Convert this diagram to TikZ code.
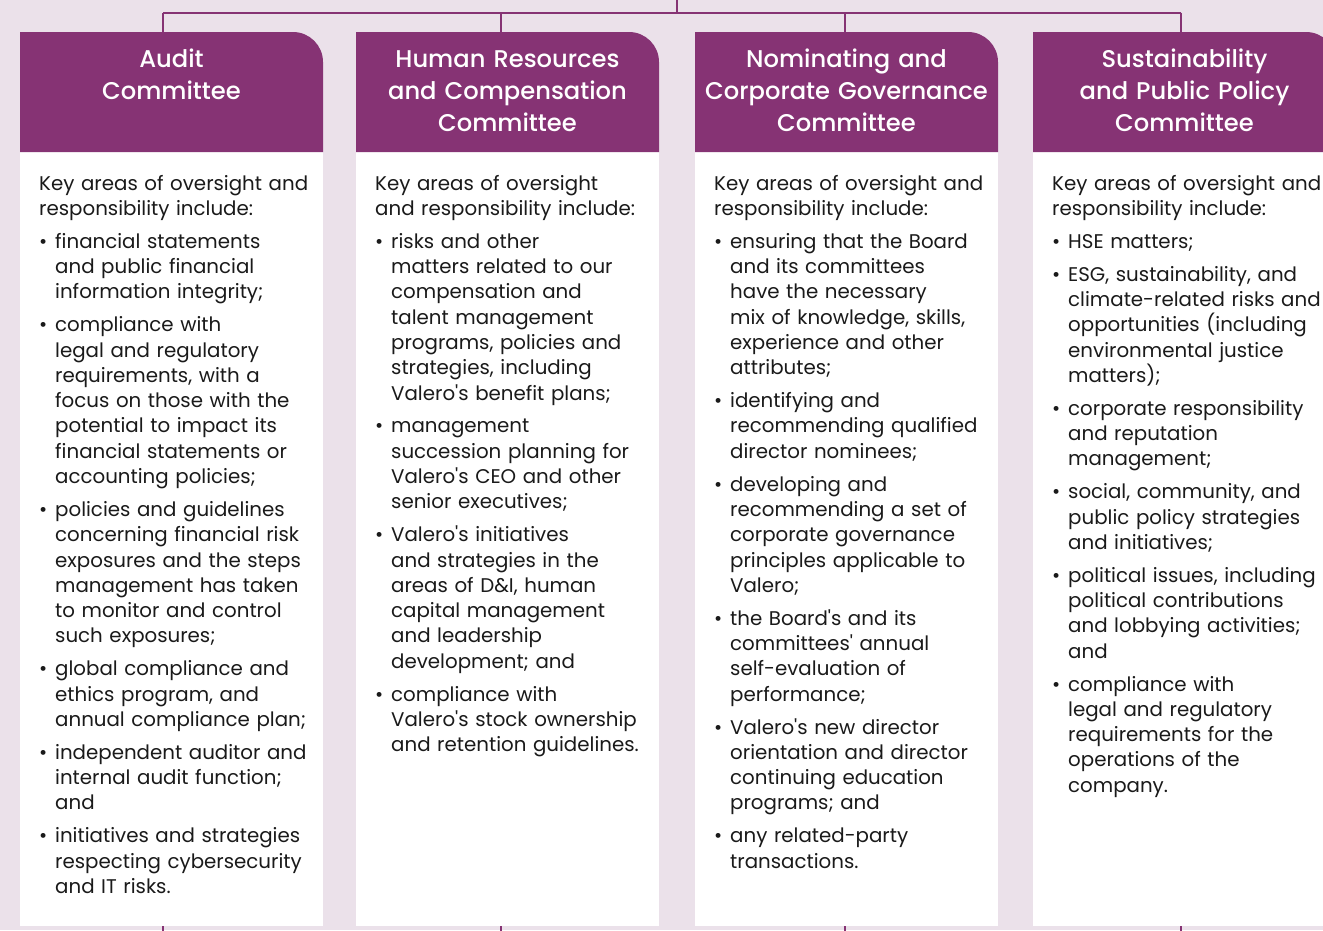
\documentclass[tikz,border=0pt]{standalone}
\usepackage{fontspec}
\setmainfont{Poppins}[Ligatures=TeXOff]
\newfontfamily\titlefont{Poppins Medium}[Ligatures=TeXOff]
\definecolor{vpurple}{HTML}{863374}
\definecolor{vbg}{HTML}{EBE1EA}
\definecolor{vtext}{HTML}{1A1A1A}
\newcommand{\itm}{\par\vspace{7.6pt}\hangindent=16pt\hangafter=1\noindent\makebox[16pt][l]{\textbullet}}
\newcommand{\bodystart}{\setlength{\parskip}{0pt}\noindent}
\tikzset{
  conn/.style={draw=vpurple, line width=2pt},
  headbox/.style={fill=vpurple},
  bodybox/.style={fill=white},
  title/.style={text=white, inner sep=0pt, align=center, text width=300pt, anchor=base,
    font=\titlefont\fontsize{24.2pt}{31.8pt}\selectfont},
  body/.style={text=vtext, inner sep=0pt, align=left, text width=300pt, anchor=base west,
    font=\fontsize{19.8pt}{25.3pt}\selectfont},
}
\begin{document}
\begin{tikzpicture}[x=1pt,y=-1pt]
\clip (0,0) rectangle (1323,930);
\fill[vbg] (0,0) rectangle (1323,930);
% column boxes
\foreach \cx in {20,356,695,1033}{
  \fill[bodybox] (\cx,152) rectangle (\cx+303,926);
  \fill[headbox] (\cx,152) -- (\cx,32) -- (\cx+273,32) arc[start angle=-90,end angle=0,radius=30] -- (\cx+303,152) -- cycle;
}
% connector points
\coordinate (top) at (677,0);
\coordinate (hub) at (677,12.5);
\coordinate (l1) at (163,12.5);
\coordinate (l4) at (1181,12.5);
\coordinate (h1) at (163,32);
\coordinate (h2) at (501,32);
\coordinate (h3) at (845,32);
\coordinate (h4) at (1181,32);
\coordinate (t1) at (501,12.5);
\coordinate (t3) at (845,12.5);
\coordinate (f1) at (163,926);
\coordinate (f2) at (501,926);
\coordinate (f3) at (845,926);
\coordinate (f4) at (1181,926);
\coordinate (e1) at (163,931);
\coordinate (e2) at (501,931);
\coordinate (e3) at (845,931);
\coordinate (e4) at (1181,931);
\draw[conn] (top) -- (hub);
\draw[conn] (l1) -- (l4);
\draw[conn] (l1) -- (h1);
\draw[conn] (t1) -- (h2);
\draw[conn] (t3) -- (h3);
\draw[conn] (l4) -- (h4);
\draw[conn] (f1) -- (e1);
\draw[conn] (f2) -- (e2);
\draw[conn] (f3) -- (e3);
\draw[conn] (f4) -- (e4);
% titles
\node[title] (T1) at (171.5,67.5) {Audit\\Committee};
\node[title] (T2) at (507.5,67.5) {Human Resources\\and Compensation\\Committee};
\node[title] (T3) at (846.5,67.5) {Nominating and\\Corporate Governance\\Committee};
\node[title] (T4) at (1184.5,67.5) {Sustainability\\and Public Policy\\Committee};
% bodies
\node[body] (B1) at (39,190) {\bodystart Key areas of oversight and\newline responsibility include:
\itm financial statements\newline and public financial\newline information integrity;
\itm compliance with\newline legal and regulatory\newline requirements, with a\newline focus on those with the\newline potential to impact its\newline financial statements or\newline accounting policies;
\itm policies and guidelines\newline concerning financial risk\newline exposures and the steps\newline management has taken\newline to monitor and control\newline such exposures;
\itm global compliance and\newline ethics program, and\newline annual compliance plan;
\itm independent auditor and\newline internal audit function;\newline and
\itm initiatives and strategies\newline respecting cybersecurity\newline and IT risks.\par};
\node[body] (B2) at (375,190) {\bodystart Key areas of oversight\newline and responsibility include:
\itm risks and other\newline matters related to our\newline compensation and\newline talent management\newline programs, policies and\newline strategies, including\newline Valero's benefit plans;
\itm management\newline succession planning for\newline Valero's CEO and other\newline senior executives;
\itm Valero's initiatives\newline and strategies in the\newline areas of D\&I, human\newline capital management\newline and leadership\newline development; and
\itm compliance with\newline Valero's stock ownership\newline and retention guidelines.\par};
\node[body] (B3) at (714,190) {\bodystart Key areas of oversight and\newline responsibility include:
\itm ensuring that the Board\newline and its committees\newline have the necessary\newline mix of knowledge, skills,\newline experience and other\newline attributes;
\itm identifying and\newline recommending qualified\newline director nominees;
\itm developing and\newline recommending a set of\newline corporate governance\newline principles applicable to\newline Valero;
\itm the Board's and its\newline committees' annual\newline self-evaluation of\newline performance;
\itm Valero's new director\newline orientation and director\newline continuing education\newline programs; and
\itm any related-party\newline transactions.\par};
\node[body] (B4) at (1052,190) {\bodystart Key areas of oversight and\newline responsibility include:
\itm HSE matters;
\itm ESG, sustainability, and\newline climate-related risks and\newline opportunities (including\newline environmental justice\newline matters);
\itm corporate responsibility\newline and reputation\newline management;
\itm social, community, and\newline public policy strategies\newline and initiatives;
\itm political issues, including\newline political contributions\newline and lobbying activities;\newline and
\itm compliance with\newline legal and regulatory\newline requirements for the\newline operations of the\newline company.\par};
\end{tikzpicture}
\end{document}
